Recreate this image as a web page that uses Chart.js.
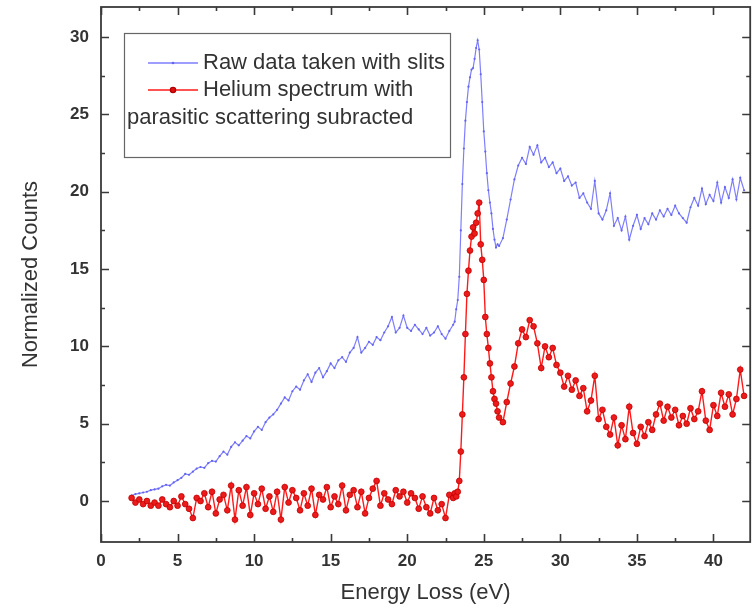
<!DOCTYPE html>
<html>
<head>
<meta charset="utf-8">
<script src="https://cdn.jsdelivr.net/npm/chart.js@4.4.1/dist/chart.umd.min.js"></script>
<style>
  body { margin: 0; background: #fff; }
</style>
</head>
<body>
<canvas id="chartHe" width="755" height="610"></canvas>
<script>
// energy loss grid (eV), finer around the 24.6 eV resonance
var energy = [
  2, 2.25, 2.5, 2.75, 3, 3.25, 3.5, 3.75, 4, 4.25, 4.5, 4.75,
  5, 5.25, 5.5, 5.75, 6, 6.25, 6.5, 6.75, 7, 7.25, 7.5, 7.75,
  8, 8.25, 8.5, 8.75, 9, 9.25, 9.5, 9.75, 10, 10.25, 10.5, 10.75,
  11, 11.25, 11.5, 11.75, 12, 12.25, 12.5, 12.75, 13, 13.25, 13.5, 13.75,
  14, 14.25, 14.5, 14.75, 15, 15.25, 15.5, 15.75, 16, 16.25, 16.5, 16.75,
  17, 17.25, 17.5, 17.75, 18, 18.25, 18.5, 18.75, 19, 19.25, 19.5, 19.75,
  20, 20.25, 20.5, 20.75, 21, 21.25, 21.5, 21.75, 22, 22.25, 22.5, 22.75,
  23,
  23.1, 23.2, 23.3, 23.4, 23.5, 23.6, 23.7, 23.8, 23.9, 24,
  24.1, 24.2, 24.3, 24.4, 24.5, 24.6, 24.7, 24.8, 24.9, 25,
  25.1, 25.2, 25.3, 25.4, 25.5, 25.6, 25.7, 25.8, 25.9, 26,
  26.25, 26.5, 26.75,
  27, 27.25, 27.5, 27.75, 28, 28.25, 28.5, 28.75, 29, 29.25, 29.5, 29.75,
  30, 30.25, 30.5, 30.75, 31, 31.25, 31.5, 31.75, 32, 32.25, 32.5, 32.75,
  33, 33.25, 33.5, 33.75, 34, 34.25, 34.5, 34.75, 35, 35.25, 35.5, 35.75,
  36, 36.25, 36.5, 36.75, 37, 37.25, 37.5, 37.75, 38, 38.25, 38.5, 38.75,
  39, 39.25, 39.5, 39.75, 40, 40.25, 40.5, 40.75, 41, 41.25, 41.5, 41.75,
  42
];

// raw data taken with slits
var rawCounts = [
  0.35, 0.45, 0.5, 0.55, 0.6, 0.7, 0.75, 0.8, 0.95, 1.05, 1.0, 1.2,
  1.35, 1.5, 1.75, 1.7, 1.9, 2.1, 2.2, 2.15, 2.45, 2.6, 2.55, 2.9,
  3.2, 3.0, 3.5, 3.8, 3.6, 3.9, 4.2, 4.05, 4.5, 4.8, 4.6, 5.1,
  5.4, 5.6, 5.9, 6.3, 6.7, 6.5, 7.1, 7.4, 7.2, 7.8, 8.2, 7.7,
  8.3, 8.6, 8.0, 8.4, 8.9, 8.6, 9.1, 9.3, 9.0, 9.6, 9.9, 10.6,
  9.6, 9.9, 10.3, 10.1, 10.6, 10.4, 10.9, 11.3, 11.9, 10.9, 11.2, 12.0,
  11.2, 11.0, 11.4, 11.1, 10.8, 11.2, 10.7, 10.9, 11.3, 10.8, 10.5, 11.0,
  11.4,
  11.6, 12.4, 13.0, 14.5, 17.5, 20.5, 22.8, 24.6, 25.8, 26.8,
  27.4, 27.9, 28.0, 28.6, 29.3, 29.8, 29.2, 27.6, 25.8, 23.9,
  22.6, 21.2, 20.1, 19.3, 18.6, 17.6, 16.9, 16.4, 16.6, 16.5,
  17.0, 18.2, 19.5,
  20.8, 21.7, 22.2, 21.8, 22.9, 22.4, 23.0, 21.9, 22.2, 21.6, 21.9, 21.2,
  21.5, 20.7, 21.0, 20.4, 20.6, 19.6, 19.9, 19.3, 18.9, 20.7, 18.6, 18.2,
  18.8, 19.9, 17.8, 18.3, 17.5, 18.4, 16.9, 17.8, 18.5, 17.6, 18.3, 17.9,
  18.6, 18.2, 18.8, 18.4, 18.9, 18.5, 19.1, 18.6, 18.3, 18.0, 19.0, 19.6,
  19.1, 20.2, 19.2, 19.8, 19.4, 20.6, 19.3, 20.3, 19.6, 20.8, 19.5, 20.9,
  20.1
];

// helium spectrum with parasitic scattering subtracted
var heliumCounts = [
  0.2, -0.1, 0.1, -0.2, 0.0, -0.3, -0.1, -0.3, 0.1, -0.2, -0.4, 0.0,
  -0.3, 0.3, -0.2, -0.5, -1.1, 0.2, 0.0, 0.5, -0.4, 0.6, -0.8, 0.1,
  0.4, -0.6, 1.0, -1.2, 0.7, -0.3, 0.9, -0.9, 0.5, -0.2, 0.8, -0.5,
  0.3, -0.7, 0.6, -1.2, 0.9, -0.1, 0.7, 0.2, -0.6, 0.5, -0.3, 0.8,
  -0.9, 0.4, 0.1, 0.9, -0.4, 0.3, -0.2, 1.0, -0.6, 0.4, 0.7, -0.4,
  0.6, -0.8, 0.2, 0.8, 1.3, -0.3, 0.5, 0.1, -0.2, 0.7, 0.3, 0.6,
  -0.1, 0.5, 0.2, -0.5, 0.3, -0.4, -0.8, 0.2, -0.6, -0.2, -1.1, 0.4,
  0.2,
  0.5, 0.3, 0.6, 1.3, 3.2, 5.6, 8.0, 10.8, 13.4, 14.9,
  16.2, 17.1, 17.7, 17.3, 18.0, 18.6, 19.3, 16.6, 15.6, 14.3,
  11.9, 10.8, 9.9, 8.9, 8.0, 7.1, 6.6, 6.3, 5.8, 5.4,
  5.1, 6.4, 7.6,
  8.7, 10.2, 11.1, 10.6, 11.7, 11.3, 10.2, 8.6, 10.0, 9.3, 9.9, 8.8,
  8.3, 7.4, 8.1, 7.2, 7.8, 6.8, 7.3, 5.8, 6.5, 8.1, 5.3, 5.9,
  4.8, 4.3, 5.4, 3.6, 4.9, 4.0, 6.1, 4.4, 3.7, 4.8, 4.2, 5.1,
  4.6, 5.6, 6.3, 5.2, 6.1, 5.4, 5.9, 4.9, 5.5, 5.0, 6.0, 5.3,
  5.8, 7.1, 5.2, 4.6, 6.2, 5.5, 7.0, 6.1, 6.9, 5.6, 6.6, 8.5,
  6.8
];

var xMajor = [0, 5, 10, 15, 20, 25, 30, 35, 40];
var xMinor = [2.5, 7.5, 12.5, 17.5, 22.5, 27.5, 32.5, 37.5];
var yMajor = [0, 5, 10, 15, 20, 25, 30];
var yMinor = [2.5, 7.5, 12.5, 17.5, 22.5, 27.5];

var legendLines = ['Raw data taken with slits', 'Helium spectrum with', 'parasitic scattering subracted'];

var FONT = '"Liberation Sans", Arial, sans-serif';
var BLUE = 'rgba(112,112,255,0.9)';
var RED = '#ff1a1a';

function toPoints(vals) {
  var pts = [];
  for (var i = 0; i < vals.length; i++) pts.push({x: energy[i], y: vals[i]});
  return pts;
}

// box + inward ticks on all four sides
var frameTicks = {
  id: 'frameTicks',
  afterDatasetsDraw: function(chart) {
    var ctx = chart.ctx, a = chart.chartArea;
    var sx = chart.scales.x, sy = chart.scales.y;
    ctx.save();
    ctx.strokeStyle = '#3a3a3a';
    ctx.lineWidth = 1.8;
    ctx.strokeRect(a.left, a.top, a.right - a.left, a.bottom - a.top);
    ctx.lineWidth = 1.6;
    ctx.beginPath();
    function xt(vals, len) {
      vals.forEach(function(v) {
        var px = Math.round(sx.getPixelForValue(v)) + 0.5;
        ctx.moveTo(px, a.bottom); ctx.lineTo(px, a.bottom - len);
        ctx.moveTo(px, a.top); ctx.lineTo(px, a.top + len);
      });
    }
    function yt(vals, len) {
      vals.forEach(function(v) {
        var py = Math.round(sy.getPixelForValue(v)) + 0.5;
        ctx.moveTo(a.left, py); ctx.lineTo(a.left + len, py);
        ctx.moveTo(a.right, py); ctx.lineTo(a.right - len, py);
      });
    }
    xt(xMajor, 8); xt(xMinor, 4);
    yt(yMajor, 8); yt(yMinor, 4);
    ctx.stroke();
    ctx.restore();
  }
};

// legend box inside the plot
var boxLegend = {
  id: 'boxLegend',
  afterDraw: function(chart) {
    var ctx = chart.ctx, a = chart.chartArea;
    var bx = a.left + 23, by = a.top + 26, bw = 326, bh = 124;
    ctx.save();
    ctx.fillStyle = '#fff';
    ctx.fillRect(bx, by, bw, bh);
    ctx.strokeStyle = '#666';
    ctx.lineWidth = 1.2;
    ctx.strokeRect(bx + 0.5, by + 0.5, bw, bh);

    var l1 = by + 30, l2 = by + 57, l3 = by + 85;
    ctx.lineWidth = 1.3;
    ctx.strokeStyle = BLUE;
    ctx.beginPath(); ctx.moveTo(bx + 24, l1); ctx.lineTo(bx + 74, l1); ctx.stroke();
    ctx.fillStyle = '#6464f0';
    ctx.beginPath(); ctx.arc(bx + 49, l1, 1.3, 0, Math.PI * 2); ctx.fill();
    ctx.strokeStyle = RED;
    ctx.beginPath(); ctx.moveTo(bx + 24, l2); ctx.lineTo(bx + 74, l2); ctx.stroke();
    ctx.fillStyle = '#e01010';
    ctx.strokeStyle = '#b00000';
    ctx.beginPath(); ctx.arc(bx + 49, l2, 2.6, 0, Math.PI * 2); ctx.fill(); ctx.stroke();

    ctx.fillStyle = '#333';
    ctx.font = '22px ' + FONT;
    ctx.textBaseline = 'middle';
    ctx.textAlign = 'left';
    ctx.fillText(legendLines[0], bx + 79, l1);
    ctx.fillText(legendLines[1], bx + 79, l2);
    ctx.fillText(legendLines[2], bx + 3, l3);
    ctx.restore();
  }
};

var ctx = document.getElementById('chartHe').getContext('2d');
var heChart = new Chart(ctx, {
  type: 'line',
  data: {
    datasets: [
      {
        label: legendLines[0],
        data: toPoints(rawCounts),
        borderColor: BLUE,
        borderWidth: 1.2,
        pointRadius: 1.1,
        pointBackgroundColor: '#6464f0',
        pointBorderWidth: 0,
        tension: 0,
        order: 2
      },
      {
        label: legendLines[1] + ' ' + legendLines[2],
        data: toPoints(heliumCounts),
        borderColor: RED,
        borderWidth: 1.4,
        pointRadius: 2.9,
        pointBackgroundColor: '#ec1a1a',
        pointBorderColor: '#c00000',
        pointBorderWidth: 0.8,
        tension: 0,
        order: 1
      }
    ]
  },
  options: {
    responsive: false,
    animation: false,
    layout: { padding: { top: 7, right: 2, left: 0, bottom: 0 } },
    plugins: {
      legend: { display: false },
      tooltip: { enabled: false }
    },
    scales: {
      x: {
        type: 'linear',
        min: 0,
        max: 42.4,
        afterFit: function(s) { s.height = 68; s.paddingLeft = 0; s.paddingRight = 0; },
        grid: { display: false, drawTicks: false },
        border: { display: false },
        ticks: {
          stepSize: 5,
          includeBounds: false,
          padding: 9,
          color: '#333',
          font: { family: FONT, size: 17, weight: 'bold' }
        },
        title: {
          display: true,
          text: 'Energy Loss (eV)',
          color: '#333',
          font: { family: FONT, size: 22 },
          padding: { top: 0, bottom: 4 }
        }
      },
      y: {
        min: -2.65,
        max: 31.95,
        afterFit: function(s) { s.width = 101; s.paddingTop = 0; s.paddingBottom = 0; },
        grid: { display: false, drawTicks: false },
        border: { display: false },
        ticks: {
          stepSize: 5,
          includeBounds: false,
          padding: 12,
          color: '#333',
          font: { family: FONT, size: 17, weight: 'bold' }
        },
        title: {
          display: true,
          text: 'Normalized Counts',
          color: '#333',
          font: { family: FONT, size: 22 },
          padding: { top: 18, bottom: 0 }
        }
      }
    }
  },
  plugins: [frameTicks, boxLegend]
});
</script>
</body>
</html>
